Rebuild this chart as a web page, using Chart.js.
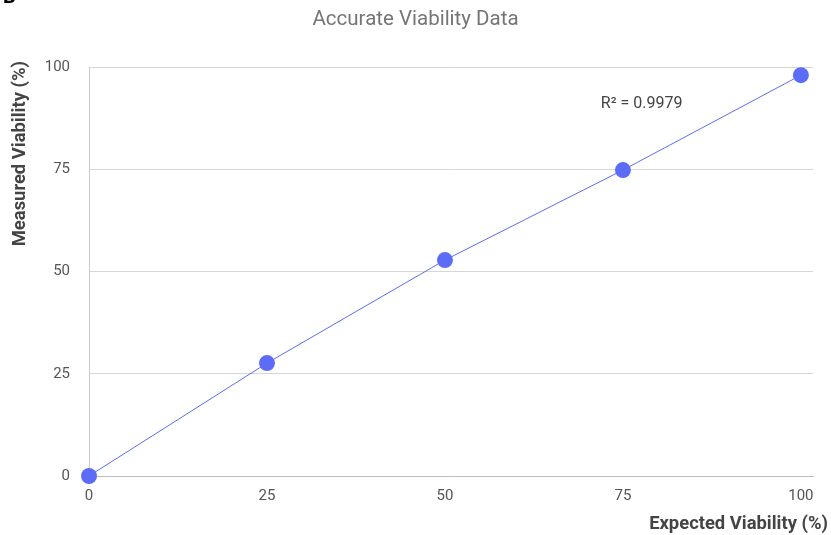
<!doctype html>
<html lang="en">
<head>
    <meta charset="utf-8">
    <title>Accurate Viability Data</title>
    <style>
        body { margin: 0; background: white; }
        .chartCard { width: 831px; height: 535px; position: relative; }
    </style>
</head>
<body>
    <div class="chartCard">
        <canvas id="myChart"></canvas>
    </div>

    <script src="https://cdn.jsdelivr.net/npm/chart.js"></script>
    <script>
        // data
        const expected = [0, 25, 50, 75, 100];
        const measured = [0, 27.6, 52.8, 74.8, 98];
        const xTicks = [0, 25, 50, 75, 100];
        const yTicks = [0, 25, 50, 75, 100];
        const chartTitle = 'Accurate Viability Data';
        const xTitle = 'Expected Viability (%)';
        const yTitle = 'Measured Viability (%)';
        const r2Label = 'R\u00b2 = 0.9979';

        const points = expected.map((x, i) => ({ x: x, y: measured[i] }));
        const blue = 'rgb(92, 108, 246)';
        const font = 'Roboto';

        const textPlugin = {
            id: 'texts',
            afterDraw(chart) {
                const { ctx, chartArea: { left, right, top, bottom } } = chart;
                const xs = chart.scales.x, ys = chart.scales.y;
                ctx.save();
                // cut-off letter at the very top left
                ctx.fillStyle = '#000';
                ctx.font = 'bold 20px ' + font;
                ctx.textBaseline = 'alphabetic';
                ctx.textAlign = 'left';
                ctx.fillText('B', 3, 3);

                ctx.fillStyle = '#757575';
                ctx.font = '20.5px ' + font;
                ctx.textAlign = 'center';
                ctx.textBaseline = 'middle';
                ctx.fillText(chartTitle, chart.width / 2, 20);

                ctx.fillStyle = '#444';
                ctx.font = 'bold 18.4px ' + font;
                ctx.textAlign = 'right';
                ctx.fillText(xTitle, 828, 524);

                ctx.save();
                ctx.translate(20, top - 6);
                ctx.rotate(-Math.PI / 2);
                ctx.textAlign = 'right';
                ctx.fillText(yTitle, 0, 0);
                ctx.restore();

                ctx.fillStyle = '#444';
                ctx.font = '16px ' + font;
                ctx.textAlign = 'left';
                ctx.fillText(r2Label, xs.getPixelForValue(71.9), ys.getPixelForValue(91.0));
                ctx.restore();
            }
        };

        const config = {
            type: 'scatter',
            data: {
                datasets: [{
                    label: 'Measured',
                    data: points,
                    showLine: true,
                    clip: false,
                    borderColor: blue,
                    borderWidth: 1,
                    backgroundColor: blue,
                    pointRadius: 8,
                    pointHoverRadius: 8,
                    pointBorderWidth: 0
                }]
            },
            options: {
                responsive: false,
                animation: false,
                layout: { padding: { left: 0, top: 67, right: 18, bottom: 0 } },
                plugins: {
                    legend: { display: false },
                    tooltip: { enabled: false }
                },
                scales: {
                    x: {
                        type: 'linear',
                        min: 0,
                        max: 101.7,
                        afterBuildTicks: (scale) => {
                            scale.ticks = xTicks.map(v => ({ value: v }));
                        },
                        afterFit: (scale) => { scale.height = 59; },
                        grid: { display: false, drawTicks: false },
                        border: { display: true, color: '#bdbdbd', width: 1 },
                        ticks: {
                            color: '#555',
                            padding: 11,
                            maxRotation: 0,
                            font: { family: font, size: 15 }
                        }
                    },
                    y: {
                        type: 'linear',
                        min: 0,
                        max: 100,
                        afterBuildTicks: (scale) => {
                            scale.ticks = yTicks.map(v => ({ value: v }));
                        },
                        afterFit: (scale) => { scale.width = 89; },
                        grid: {
                            drawTicks: false,
                            color: (c) => c.tick && c.tick.value === 0 ? '#bdbdbd' : '#d6d6d6'
                        },
                        border: { display: true, color: '#cccccc', width: 1 },
                        ticks: {
                            color: '#555',
                            padding: 19,
                            font: { family: font, size: 15 }
                        }
                    }
                }
            },
            plugins: [textPlugin]
        };

        const canvas = document.getElementById('myChart');
        canvas.width = 831;
        canvas.height = 535;
        const myChart = new Chart(canvas, config);
    </script>
</body>
</html>
